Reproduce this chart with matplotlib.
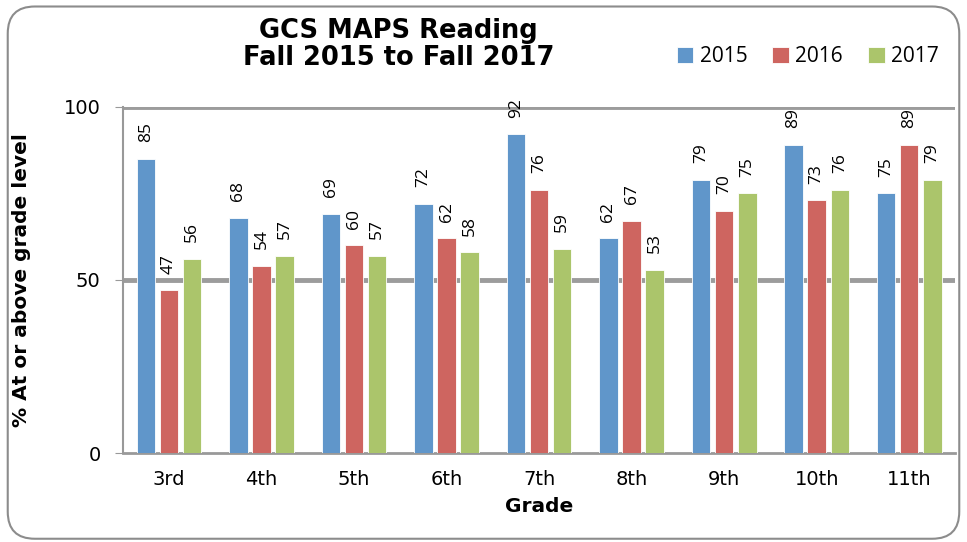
import numpy as np
import matplotlib.pyplot as plt
from matplotlib.patches import FancyBboxPatch

# Chart data
grades = ['3rd', '4th', '5th', '6th', '7th', '8th', '9th', '10th', '11th']
years = ['2015', '2016', '2017']
pct_2015 = [85, 68, 69, 72, 92, 62, 79, 89, 75]
pct_2016 = [47, 54, 60, 62, 76, 67, 70, 73, 89]
pct_2017 = [56, 57, 57, 58, 59, 53, 75, 76, 79]
yticks = [0, 50, 100]

colors = ['#6096CA', '#CE6560', '#ABC56B']
series = [pct_2015, pct_2016, pct_2017]

fig = plt.figure(figsize=(9.67, 5.42), dpi=100)
ax = fig.add_axes([0.127, 0.164, 0.861, 0.639])

# rounded outer border
border = FancyBboxPatch((0.008, 0.006), 0.984, 0.982,
                        boxstyle='round,pad=0,rounding_size=0.028',
                        transform=fig.transFigure, fill=False,
                        edgecolor='#8c8c8c', linewidth=1.5, mutation_aspect=967 / 542)
fig.patches.append(border)

x = np.arange(len(grades))
width = 0.2
offsets = [-0.25, 0, 0.25]
for vals, off, col, yr in zip(series, offsets, colors, years):
    bars = ax.bar(x + off, vals, width, color=col, label=yr, zorder=3,
                  edgecolor='white', linewidth=0.6)
    for b, v in zip(bars, vals):
        ax.annotate(str(v), (b.get_x() + b.get_width() / 2, v),
                    xytext=(0, 12), textcoords='offset points',
                    ha='center', va='bottom', rotation=90,
                    fontsize=12.5, family='Open Sans')

ax.set_ylim(0, 100)
ax.set_xlim(-0.5, len(grades) - 0.5)
ax.set_yticks(yticks)
ax.set_yticklabels([str(t) for t in yticks], fontsize=14)
ax.set_xticks(x)
ax.set_xticklabels(grades, fontsize=14)
ax.tick_params(axis='x', length=0, pad=12)
ax.tick_params(axis='y', length=6, color='#999999', pad=10)

for yv in [50, 100]:
    ax.axhline(yv, color='#9c9c9c', linewidth=3.5, zorder=1)

for s in ['top', 'right']:
    ax.spines[s].set_visible(False)
ax.spines['left'].set_color('#999999')
ax.spines['bottom'].set_color('#999999')
ax.spines['left'].set_linewidth(1.5)
ax.spines['bottom'].set_linewidth(2)

ax.set_ylabel('% At or above grade level', fontsize=14.5, fontweight='bold')
ax.yaxis.set_label_coords(-0.11, 0.5)
ax.set_xlabel('Grade', fontsize=14.5, fontweight='bold', labelpad=6)

fig.text(0.412, 0.918, 'GCS MAPS Reading\nFall 2015 to Fall 2017', ha='center', va='center',
         fontsize=18.5, fontweight='bold', linespacing=1.05)

fig.legend(loc='center right', bbox_to_anchor=(0.99, 0.895), ncol=3, frameon=False,
           handlelength=0.8, handleheight=0.8, handletextpad=0.3,
           columnspacing=1.2, prop={'family': 'Open Sans', 'size': 15})

fig.savefig('out.png', dpi=100)
